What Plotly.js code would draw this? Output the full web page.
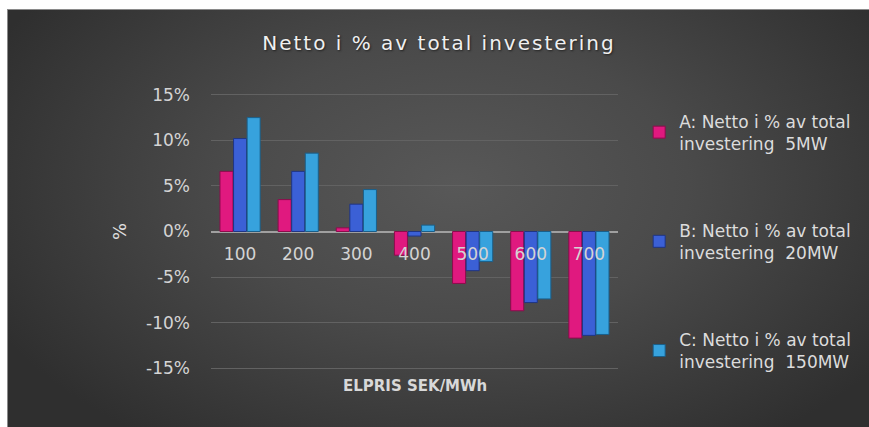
<!DOCTYPE html>
<html>
<head>
<meta charset="utf-8">
<script src="https://cdn.plot.ly/plotly-3.0.1.min.js"></script>
<style>
  html, body { margin: 0; padding: 0; background: #ffffff; width: 869px; height: 427px; overflow: hidden; }
  #frame {
    position: absolute; left: 7px; top: 9px; width: 862px; height: 418px;
    border-left: 1px solid #8a8a8a; border-top: 1px solid #8a8a8a;
    background: radial-gradient(ellipse 60% 75% at 52% 42%, #585858 0%, #4a4a4a 45%, #2f2f2f 100%);
  }
  #chart { position: absolute; left: 0; top: 0; width: 862px; height: 418px; }
  #chart .gtitle { letter-spacing: 2px; }
</style>
</head>
<body>
<div id="frame"><div id="chart"></div></div>
<script>
const categories = ['100', '200', '300', '400', '500', '600', '700'];
const seriesA = [6.6, 3.5, 0.4, -2.6, -5.7, -8.7, -11.7];
const seriesB = [10.2, 6.6, 3.0, -0.5, -4.3, -7.8, -11.4];
const seriesC = [12.5, 8.6, 4.6, 0.7, -3.3, -7.4, -11.3];
const seriesNames = [
  'A: Netto i % av total<br>investering  5MW',
  'B: Netto i % av total<br>investering  20MW',
  'C: Netto i % av total<br>investering  150MW'
];
const yTickVals = [-15, -10, -5, 0, 5, 10, 15];
const yTickText = ['-15%', '-10%', '-5%', '0%', '5%', '10%', '15%'];
const titleText = 'Netto i % av total investering';
const xTitleText = 'ELPRIS SEK/MWh';
const yTitleText = '%';

const fills = ['#e0197f', '#3b60d6', '#37a2dd'];
const edges = ['#8c0c4c', '#1f3584', '#1a5f8a'];
const values = [seriesA, seriesB, seriesC];

const traces = values.map((v, i) => ({
  type: 'bar',
  x: categories,
  y: v,
  name: seriesNames[i],
  legendgroup: 'g' + i,
  marker: { color: fills[i], line: { color: edges[i], width: 1 } },
  hoverinfo: 'x+y'
}));

const layout = {
  width: 862, height: 418,
  paper_bgcolor: 'rgba(0,0,0,0)',
  plot_bgcolor: 'rgba(0,0,0,0)',
  margin: { l: 203, r: 252, t: 83, b: 58 },
  font: { family: '"DejaVu Sans", sans-serif', color: '#d4d4d4', size: 16 },
  title: {
    text: titleText,
    x: 0.5, xanchor: 'center',
    y: 0.921, yanchor: 'middle', yref: 'container',
    font: { family: '"DejaVu Sans", sans-serif', size: 20, color: '#f0f0f0', shadow: '1px 1px 2px #222' }
  },
  barmode: 'group',
  bargap: 0.3,
  bargroupgap: 0.04,
  xaxis: {
    type: 'category',
    anchor: 'free',
    position: 0.5,
    showgrid: false,
    showline: false,
    zeroline: false,
    ticks: '',
    ticklabelstandoff: 10,
    tickfont: { size: 17, color: '#d4d4d4' }
  },
  yaxis: {
    range: [-15.2, 15.2],
    tickvals: yTickVals,
    ticktext: yTickText,
    showgrid: true,
    gridcolor: '#626262',
    gridwidth: 1,
    zeroline: true,
    zerolinecolor: '#a0a0a0',
    zerolinewidth: 2,
    showline: false,
    ticks: '',
    ticklabelstandoff: 20,
    tickfont: { size: 17, color: '#d4d4d4' },
    title: { text: yTitleText, standoff: 14, font: { size: 18, color: '#e0e0e0' } }
  },
  showlegend: true,
  legend: {
    x: 1.052, xanchor: 'left',
    y: 0.962, yanchor: 'top',
    tracegroupgap: 62,
    itemwidth: 30,
    font: { size: 17, color: '#dcdcdc' },
    bgcolor: 'rgba(0,0,0,0)'
  },
  annotations: [{
    text: xTitleText,
    xref: 'paper', yref: 'paper',
    x: 0.5, y: -0.058, xanchor: 'center', yanchor: 'middle',
    showarrow: false,
    font: { size: 15, color: '#d8d8d8', weight: 'bold' }
  }]
};

Plotly.newPlot('chart', traces, layout, { displayModeBar: false, staticPlot: true });
</script>
</body>
</html>
